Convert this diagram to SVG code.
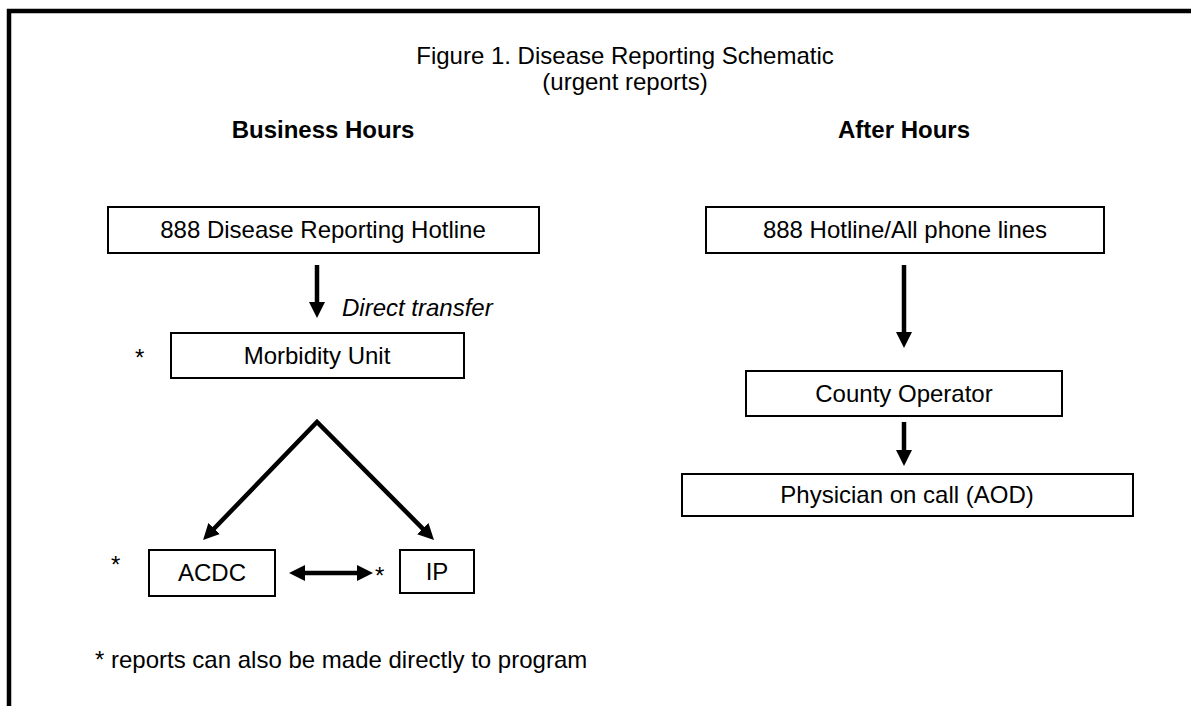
<svg xmlns="http://www.w3.org/2000/svg" width="1191" height="706" viewBox="0 0 1191 706">
<style>
text{font-family:"Liberation Sans",Arial,sans-serif;font-size:24px;fill:#000}
.c{text-anchor:middle}
.b{font-weight:bold}
.box{fill:#fff;stroke:#000;stroke-width:2}
.ln{fill:none;stroke:#000;stroke-width:4.5;stroke-linejoin:miter}
</style>
<defs>
<marker id="ah" viewBox="0 0 16 16" refX="8" refY="8" markerWidth="16" markerHeight="16" markerUnits="userSpaceOnUse" orient="auto-start-reverse">
<path d="M0,0 L16,8 L0,16 z" fill="#000"/>
</marker>
</defs>
<rect width="1191" height="706" fill="#fff"/>
<path d="M9,706 V11 H1191" fill="none" stroke="#000" stroke-width="4.5"/>
<g id="title">
<text class="c" x="625" y="64">Figure 1. Disease Reporting Schematic</text>
<text class="c" x="625" y="90" font-size="21">(urgent reports)</text>
</g>
<g id="headers">
<text class="c b" x="323" y="138">Business Hours</text>
<text class="c b" x="904" y="138">After Hours</text>
</g>
<g id="connectors">
<line class="ln" x1="317" y1="265" x2="317" y2="310" marker-end="url(#ah)"/>
<polyline class="ln" points="208.6,534.3 317,422 428.4,534.3" marker-start="url(#ah)" marker-end="url(#ah)"/>
<line class="ln" x1="297" y1="573" x2="365" y2="573" marker-start="url(#ah)" marker-end="url(#ah)"/>
<line class="ln" x1="904" y1="265" x2="904" y2="340" marker-end="url(#ah)"/>
<line class="ln" x1="904" y1="422" x2="904" y2="458" marker-end="url(#ah)"/>
<text x="342" y="316" font-style="italic">Direct transfer</text>
</g>
<g id="hotline">
<rect class="box" x="108" y="207" width="431" height="46"/>
<text class="c" x="323" y="238">888 Disease Reporting Hotline</text>
</g>
<g id="morbidity">
<rect class="box" x="171" y="333" width="293" height="45"/>
<text class="c" x="317" y="364">Morbidity Unit</text>
<text x="135" y="366">*</text>
</g>
<g id="acdc">
<rect class="box" x="149" y="550" width="126" height="46"/>
<text class="c" x="212" y="581">ACDC</text>
<text x="111" y="573">*</text>
</g>
<g id="ip">
<rect class="box" x="400" y="550" width="74" height="43"/>
<text class="c" x="437" y="580">IP</text>
<text x="375" y="584">*</text>
</g>
<g id="hotline2">
<rect class="box" x="706" y="207" width="398" height="46"/>
<text class="c" x="905" y="238">888 Hotline/All phone lines</text>
</g>
<g id="county">
<rect class="box" x="746" y="371" width="316" height="45"/>
<text class="c" x="904" y="402">County Operator</text>
</g>
<g id="physician">
<rect class="box" x="682" y="474" width="451" height="42"/>
<text class="c" x="907" y="503">Physician on call (AOD)</text>
</g>
<g id="footnote">
<text x="95" y="668">* reports can also be made directly to program</text>
</g>
</svg>
